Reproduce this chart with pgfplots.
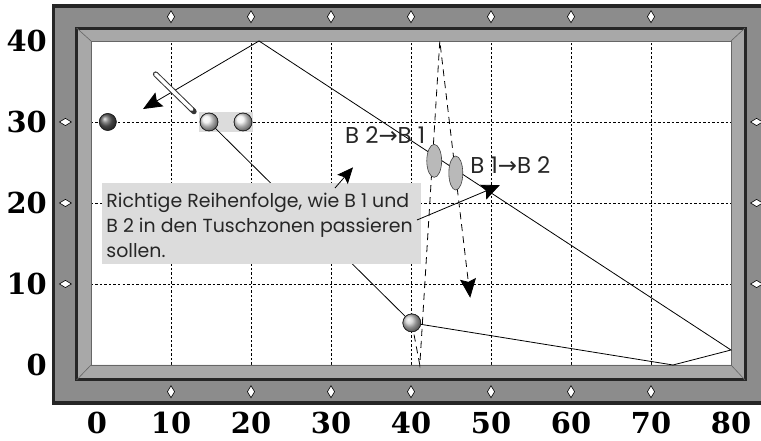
\documentclass[border=0pt]{standalone}
\usepackage{fontspec}
\usepackage{pgfplots}
\pgfplotsset{compat=1.18}
\usetikzlibrary{arrows.meta}
\newfontfamily\gothic{Poppins}
\newfontfamily\numfont{DejaVu Serif}
\newfontfamily\symfont{DejaVu Sans}
\definecolor{marble}{RGB}{140,140,140}
\definecolor{cushion}{RGB}{168,168,168}
\definecolor{note}{RGB}{220,220,220}

\begin{document}
\begin{tikzpicture}
\begin{axis}[
  scale only axis, width=640bp, height=324bp,
  xmin=0, xmax=80, ymin=0, ymax=40, clip=false,
  axis line style={draw=none},
  xtick={0,10,...,80}, ytick={0,10,...,40},
  xticklabels={\hspace*{12bp}0,10,20,30,40,50,60,70,80},
  minor xtick={10,20,...,70}, minor ytick={10,20,30},
  grid=minor,
  minor grid style={black, line width=0.6bp, dash pattern=on 2.5bp off 2bp},
  major tick length=0pt, minor tick length=0pt,
  tick label style={font=\numfont\bfseries\fontsize{29}{30}\selectfont, inner sep=0pt},
  /pgf/number format/assume math mode=true,
  xticklabel style={anchor=center, yshift=-58bp},
  yticklabel style={anchor=east, xshift=-44bp},
]
% table frame
\fill[marble, even odd rule] (axis cs:-4.7,-4.7) rectangle (axis cs:86,44.3)
  (axis cs:-1.8,-1.85) rectangle (axis cs:81.75,41.6);
\draw[black!85, line width=3.5bp] (axis cs:-4.7,-4.7) rectangle (axis cs:86,44.3);
\fill[cushion, even odd rule] (axis cs:-1.8,-1.85) rectangle (axis cs:81.75,41.6)
  (axis cs:0,0) rectangle (axis cs:80,40);
\draw[black!85, line width=3bp] (axis cs:-1.8,-1.85) rectangle (axis cs:81.75,41.6);
\draw[black!60, line width=0.7bp] (axis cs:0,0) rectangle (axis cs:80,40);
\draw[black!60, line width=0.6bp]
  (axis cs:0,0) -- (axis cs:-1.8,-1.85) (axis cs:80,0) -- (axis cs:81.75,-1.85)
  (axis cs:0,40) -- (axis cs:-1.8,41.6) (axis cs:80,40) -- (axis cs:81.75,41.6);

% diamonds
\addplot[only marks, mark=diamond*, mark size=6bp,
  mark options={xscale=0.8, fill=white, draw=black, line width=0.6bp}]
  coordinates {(10,43) (20,43) (30,43) (40,43) (50,43) (60,43) (70,43)
               (10,-3.3) (20,-3.3) (30,-3.3) (40,-3.3) (50,-3.3) (60,-3.3) (70,-3.3)};
\addplot[only marks, mark=diamond*, mark size=6bp,
  mark options={rotate=90, xscale=0.8, fill=white, draw=black, line width=0.6bp}]
  coordinates {(-3.2,10) (-3.2,20) (-3.2,30) (83.2,10) (83.2,20) (83.2,30)};

% highlight behind the two white balls
\fill[note] (axis cs:13.5,28.8) rectangle (axis cs:20.2,31.2);

% Tuschzonen
\addplot[only marks, mark=*, mark size=16.5bp,
  mark options={xscale=0.45, fill=gray!55, draw=black!75, line width=0.6bp}]
  coordinates {(42.9,25.2)};
\addplot[only marks, mark=*, mark size=17bp,
  mark options={xscale=0.41, fill=gray!55, draw=black!75, line width=0.6bp}]
  coordinates {(45.6,23.7)};

% paths
\addplot[black, line width=0.8bp] coordinates {(14.75,30) (40.1,5.2)};
\addplot[black, line width=0.8bp, line join=miter, -{Stealth[length=19bp,width=16bp,inset=3bp]}]
  coordinates {(40.1,5.2) (72.75,0) (80,1.85) (21,40) (6.5,31.6)};
\addplot[black, line width=0.8bp, dash pattern=on 7bp off 5bp, -{Stealth[length=19bp,width=16bp,inset=3bp]}]
  coordinates {(40.1,5.2) (41.1,0) (43.6,40) (47.4,8.3)};

% cue
\addplot[line width=5.5bp, black!80, line cap=round] coordinates {(8.08,35.9) (12.87,31.29)};
\addplot[line width=3.5bp, white, line cap=round] coordinates {(8.08,35.9) (12.6,31.55)};

% balls
\addplot[only marks, mark=ball, mark size=8.5bp, mark options={ball color=gray!75!black}, ball color=gray!75!black]
  coordinates {(2.1,30)};
\addplot[only marks, mark=ball, mark size=9bp, mark options={ball color=gray!12}, ball color=gray!12]
  coordinates {(14.75,30) (19,30)};
\addplot[only marks, mark=ball, mark size=9bp, mark options={ball color=gray!40}, ball color=gray!40]
  coordinates {(40.1,5.2)};
\addplot[only marks, mark=o, mark size=8.5bp, mark options={draw=black!85, line width=0.6bp}]
  coordinates {(2.1,30)};
\addplot[only marks, mark=o, mark size=9bp, mark options={draw=black!85, line width=0.6bp}]
  coordinates {(14.75,30) (19,30) (40.1,5.2)};

% note box
\fill[note] (axis cs:1.4,12.5) rectangle (axis cs:41.25,22.5);
\begin{scope}[every node/.style={anchor=base west, inner sep=0pt, font=\gothic\fontsize{19}{22}\selectfont, text=black!85}]
\node at (axis cs:1.9,19.5) {Richtige Reihenfolge, wie B 1 und};
\node at (axis cs:1.9,16.3) {B 2 in den Tuschzonen passieren};
\node at (axis cs:1.9,13.3) {sollen.};
\end{scope}
\addplot[black, line width=0.8bp, -{Stealth[length=16bp,width=14bp,inset=3bp]}]
  coordinates {(30.5,21.85) (32.75,24.4)};
\addplot[black, line width=0.8bp, -{Stealth[length=18bp,width=16bp,inset=3bp]}]
  coordinates {(40.75,17.9) (51.1,22.2)};

% labels
\begin{scope}[every node/.style={anchor=base west, inner sep=0pt, font=\gothic\fontsize{23}{25}\selectfont, text=black!85}]
\node at (axis cs:31.75,27.4) {B 2{\symfont→}B 1};
\node at (axis cs:47.4,23.7) {B 1{\symfont→}B 2};
\end{scope}

\coordinate (bbA) at (axis cs:-11.375,-9.38);
\coordinate (bbB) at (axis cs:83.75,45.06);
\end{axis}
\pgfresetboundingbox
\useasboundingbox (bbA) rectangle (bbB);
\end{tikzpicture}
\end{document}
